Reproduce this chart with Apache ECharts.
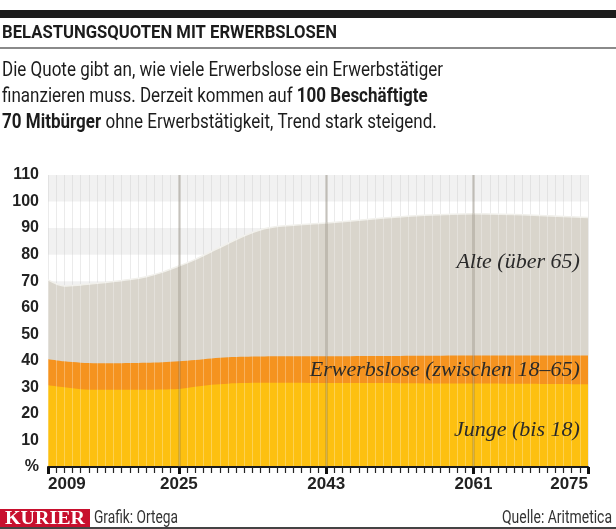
<!DOCTYPE html>
<html><head><meta charset="utf-8">
<script src="https://cdn.jsdelivr.net/npm/echarts@6/dist/echarts.min.js"></script>
<style>html,body{margin:0;padding:0;background:#fff}#c{width:616px;height:529px}</style>
</head><body><div id="c"></div>
<script>
// ---- data ----
const years          = [2009, 2011, 2013, 2015, 2017, 2019, 2021, 2023, 2025, 2027, 2029, 2031, 2033, 2035, 2037, 2039, 2043, 2049, 2055, 2061, 2067, 2075];
const jungeTop       = [30.8, 30.0, 29.3, 29.1, 29.1, 29.1, 29.1, 29.2, 29.4, 30.2, 31.0, 31.4, 31.6, 31.7, 31.7, 31.7, 31.6, 31.6, 31.5, 31.5, 31.4, 31.2];
const erwerbsloseTop = [40.6, 39.8, 39.3, 39.1, 39.1, 39.2, 39.3, 39.5, 39.8, 40.3, 40.9, 41.3, 41.5, 41.6, 41.7, 41.7, 41.7, 41.8, 41.9, 42.0, 42.0, 42.0];
const alteTop        = [70.5, 68.2, 68.6, 69.2, 69.9, 70.6, 71.7, 73.4, 75.7, 78.2, 81.2, 84.2, 87.1, 89.4, 90.6, 91.1, 91.9, 93.5, 94.8, 95.4, 95.0, 94.0];
const xLabelYears    = [2009, 2025, 2043, 2061, 2075];
const majorLineYears = [2025, 2043, 2061];
const yMin = 0, yMax = 110, yStep = 10;
const bandRanges     = [[0,10],[20,30],[40,50],[60,70],[80,90],[100,110]];
const seriesNames    = ['Alte (über 65)', 'Erwerbslose (zwischen 18–65)', 'Junge (bis 18)'];
const labelAnchors   = [[2074, 77], [2074, 36.5], [2074, 14]];

const title = 'BELASTUNGSQUOTEN MIT ERWERBSLOSEN';
const sub1 = 'Die Quote gibt an, wie viele Erwerbslose ein Erwerbstätiger';
const sub2a = 'finanzieren muss. Derzeit kommen auf ', sub2b = '100 Beschäftigte';
const sub3a = '70 Mitbürger', sub3b = ' ohne Erwerbstätigkeit, Trend stark steigend.';

const SANS = 'Roboto,"Liberation Sans",sans-serif';
const NUM = '"Liberation Sans",sans-serif';
const SERIF = '"Liberation Serif","DejaVu Serif",serif';

const mctx = document.createElement('canvas').getContext('2d');
function mw(text, font){ mctx.font = font; return mctx.measureText(text).width; }

const chart = echarts.init(document.getElementById('c'), null, {renderer:'canvas'});
const pairs = arr => years.map((y,i)=>[y, arr[i]]);
const xMin = years[0], xMax = years[years.length-1];

function areaSeries(name, arr, color, line){
  return {
    name, type:'line', data: pairs(arr), smooth:0.3, symbol:'none', silent:true,
    lineStyle: line || {width:0}, areaStyle:{color, opacity:1}, z:2
  };
}

const option = {
  animation:false,
  backgroundColor:'#fff',
  grid:{left:48, right:28, top:175, bottom:62, containLabel:false},
  xAxis:[
    {type:'value', min:xMin, max:xMax, interval:1, z:0,
     axisLine:{show:false}, axisTick:{show:false}, axisLabel:{show:false},
     splitLine:{show:true, lineStyle:{color:'#e4e4e4', width:1}}},
    {type:'value', min:xMin, max:xMax, interval:1, z:4, position:'bottom',
     axisLine:{show:true, lineStyle:{color:'#1a1a1a', width:2}},
     axisTick:{show:true, length:6, lineStyle:{color:'#222', width:1.2}},
     axisLabel:{customValues:xLabelYears, formatter: v => String(v), fontFamily:NUM, fontSize:17, fontWeight:'bold', color:'#222', margin:9,
                alignMinLabel:'left', alignMaxLabel:'right'},
     splitLine:{show:true, lineStyle:{color:'rgba(255,255,255,0.28)', width:1}}},
    {type:'value', min:xMin, max:xMax, z:5, position:'bottom',
     axisLine:{show:false}, axisLabel:{show:false}, splitLine:{show:false},
     axisTick:{show:true, customValues:xLabelYears, length:7, lineStyle:{color:'#111', width:3}}}
  ],
  yAxis:{type:'value', min:yMin, max:yMax, interval:yStep,
    axisLine:{show:false}, axisTick:{show:false}, splitLine:{show:false},
    axisLabel:{fontFamily:NUM, fontSize:16, fontWeight:'bold', color:'#222', margin:9,
      formatter: v => v === 0 ? '%' : String(v)}},
  series:[
    areaSeries(seriesNames[0], alteTop, '#d9d5cc', {color:'#f1f0eb', width:1.5}),
    areaSeries(seriesNames[1], erwerbsloseTop, '#f5931f'),
    areaSeries(seriesNames[2], jungeTop, '#fdc010'),
    {type:'line', data:[], z:6, silent:true,
     markArea:{silent:true, itemStyle:{color:'rgba(0,0,0,0.055)'},
       data: bandRanges.map(r=>[{xAxis:xMin, yAxis:r[0]},{xAxis:xMax, yAxis:r[1]}])},
     markLine:{silent:true, symbol:'none', label:{show:false},
       lineStyle:{color:'rgba(110,100,80,0.3)', width:2.5, type:'solid'},
       data: majorLineYears.map(v=>({xAxis:v}))}}
  ]
};
chart.setOption(option);

const labels = labelAnchors.map((a,i)=>{
  const p = chart.convertToPixel({gridIndex:0}, a);
  return {type:'text', x:p[0], y:p[1], z:20,
    style:{text:seriesNames[i], font:'italic 22px '+SERIF, fill:'#2a2a2a', textAlign:'right', textVerticalAlign:'middle'}};
});

// condensed look: scale fonts horizontally to the reference's text widths
const FT = 'bold 18px '+SANS, FN = '20px '+SANS, FB = 'bold 20px '+SANS, FF = '18px '+SANS, FK = 'bold 18px '+SERIF;
const sTitle = 335 / mw(title, FT);
const sSub = 441 / mw(sub1, FN);
const sGraf = 84 / mw('Grafik: Ortega', FF);
const sQuel = 110 / mw('Quelle: Aritmetica', FF);
const sK = 80 / mw('KURIER', FK);

chart.setOption({graphic:[
  {type:'rect', shape:{x:0,y:10,width:616,height:8}, style:{fill:'#1c1c1c'}},
  {type:'text', x:2, y:33, scaleX:sTitle, style:{text:title, font:FT, fill:'#1c1c1c', textVerticalAlign:'middle'}},
  {type:'rect', shape:{x:0,y:47,width:616,height:2}, style:{fill:'#8a8a8a'}},
  {type:'text', x:2, y:71, scaleX:sSub, style:{text:sub1, font:FN, fill:'#1c1c1c', textVerticalAlign:'middle'}},
  {type:'text', x:2, y:97, scaleX:sSub, style:{text:'{n|'+sub2a+'}{b|'+sub2b+'}', textVerticalAlign:'middle',
     rich:{n:{font:FN, fill:'#1c1c1c'}, b:{font:FB, fill:'#1c1c1c'}}}},
  {type:'text', x:2, y:123, scaleX:sSub, style:{text:'{b|'+sub3a+'}{n|'+sub3b+'}', textVerticalAlign:'middle',
     rich:{n:{font:FN, fill:'#1c1c1c'}, b:{font:FB, fill:'#1c1c1c'}}}},
  ...labels,
  {type:'rect', shape:{x:0,y:509,width:90,height:18}, style:{fill:'#c8102e'}},
  {type:'text', x:5, y:519, scaleX:sK, style:{text:'KURIER', font:FK, fill:'#fff', textVerticalAlign:'middle'}},
  {type:'text', x:94, y:518, scaleX:sGraf, style:{text:'Grafik: Ortega', font:FF, fill:'#333', textVerticalAlign:'middle'}},
  {type:'text', x:612, y:518, scaleX:sQuel, style:{text:'Quelle: Aritmetica', font:FF, fill:'#333', textAlign:'right', textVerticalAlign:'middle'}},
  {type:'rect', shape:{x:0,y:527,width:616,height:2}, style:{fill:'#444'}}
]});
</script></body></html>
